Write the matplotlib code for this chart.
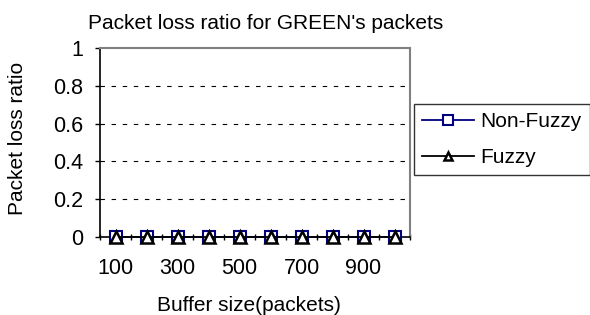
import numpy as np
import matplotlib
matplotlib.use("Agg")
import matplotlib.pyplot as plt

plt.rcParams['font.family'] = ['Liberation Sans', 'DejaVu Sans']

buffer_sizes = [100, 200, 300, 400, 500, 600, 700, 800, 900, 1000]
non_fuzzy = [0, 0, 0, 0, 0, 0, 0, 0, 0, 0]
fuzzy = [0, 0, 0, 0, 0, 0, 0, 0, 0, 0]
y_ticks = [0, 0.2, 0.4, 0.6, 0.8, 1]

fig = plt.figure(figsize=(5.9, 3.15), dpi=100)
ax = fig.add_axes([0.1695, 0.2476, 0.5255, 0.6])

x = np.arange(len(buffer_sizes))
ax.plot(x, non_fuzzy, color='#000080', lw=1.3, marker='s', ms=9,
        mfc='white', mec='#000080', mew=1.5, label='Non-Fuzzy', clip_on=False, zorder=3)
ax.plot(x, fuzzy, color='black', lw=1.3, marker='^', ms=8,
        mfc='white', mec='black', mew=1.8, label='Fuzzy', clip_on=False, zorder=4)

ax.set_xlim(-0.5, len(buffer_sizes) - 0.5)
ax.set_ylim(0, 1)
ax.set_yticks(y_ticks)
ax.set_yticklabels(['0', '0.2', '0.4', '0.6', '0.8', '1'])
ax.set_xticks(x[::2])
ax.set_xticklabels([str(b) for b in buffer_sizes[::2]])
ax.set_xticks(np.arange(len(buffer_sizes) + 1) - 0.5, minor=True)
ax.tick_params(axis='x', which='major', length=0, pad=15, labelsize=15.5)
ax.tick_params(axis='x', which='minor', length=4, direction='inout', width=1)
ax.tick_params(axis='y', length=3.6, width=1, labelsize=15.5, pad=8.5)

for v in y_ticks[1:-1]:
    ax.axhline(v, color='black', lw=0.8, ls=(0, (4, 6)), zorder=1)

ax.spines['left'].set_color('black')
ax.spines['bottom'].set_color('black')
ax.spines['left'].set_linewidth(1.2)
ax.spines['bottom'].set_linewidth(1.2)
ax.spines['top'].set_color('#808080')
ax.spines['right'].set_color('#808080')
ax.spines['top'].set_linewidth(1.5)
ax.spines['right'].set_linewidth(1.5)

ax.set_title("Packet loss ratio for GREEN's packets", fontsize=15, pad=14, x=0.535)
ax.set_xlabel('Buffer size(packets)', fontsize=15)
ax.xaxis.set_label_coords(0.479, -0.31)
ax.set_ylabel('Packet loss ratio', fontsize=15)
ax.yaxis.set_label_coords(-0.235, 0.519)

leg = ax.legend(loc='upper left', bbox_to_anchor=(1.013, 0.704), fontsize=15,
                frameon=True, fancybox=False, edgecolor='black', borderaxespad=0,
                handlelength=2.5, handletextpad=0.3, borderpad=0.4, labelspacing=0.8,
                markerscale=0.8)
leg.get_frame().set_linewidth(1)

fig.savefig('out.png', dpi=100)
